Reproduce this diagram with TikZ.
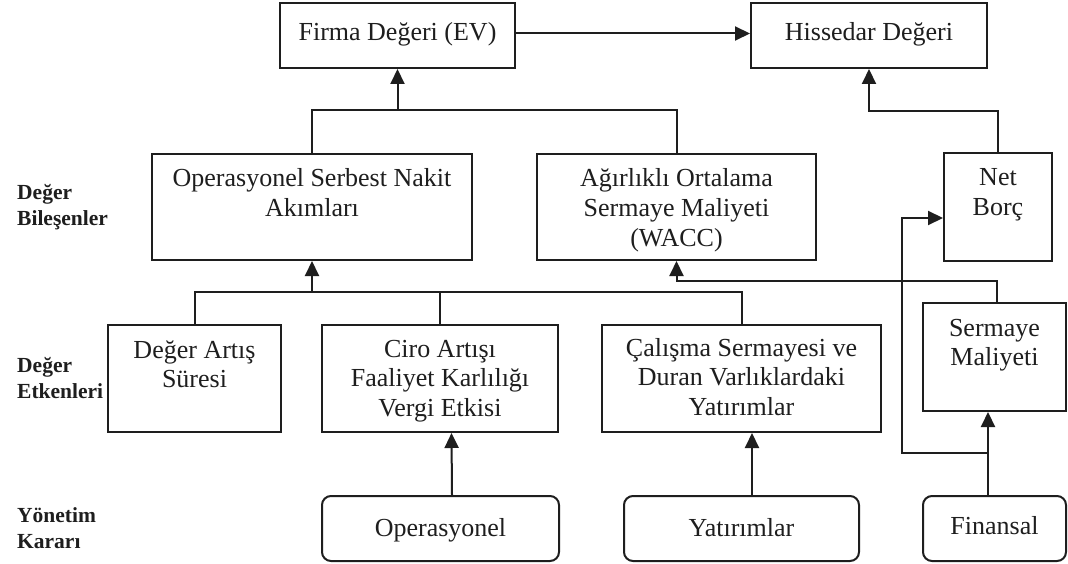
\documentclass[tikz,border=0pt]{standalone}
\usepackage{fontspec}
\setmainfont{Liberation Serif}
\usetikzlibrary{arrows.meta}
\definecolor{ink}{HTML}{1E1E1E}
\newcommand\bxt[4]{\parbox[c][#2][t]{#1}{\centering\rule{0pt}{#3}#4\par}}
\newcommand\boxfont{\fontsize{26pt}{29.5pt}\selectfont}
\newcommand\lblfont{\fontsize{21.5pt}{26pt}\selectfont\bfseries}
\tikzset{
  bx/.style={draw=ink, line width=2pt, inner sep=0pt, font=\boxfont, text=ink},
  rbx/.style={bx, rounded corners=9pt},
  conn/.style={draw=ink, line width=2pt},
  arr/.style={conn, -{Triangle[length=15pt,width=14pt]}},
  lbl/.style={anchor=base west, inner sep=0pt, font=\lblfont, text=ink}
}
\begin{document}
\begin{tikzpicture}[x=1pt,y=-1pt]
\fill[white] (0,0) rectangle (1068,564);
\useasboundingbox (0,0) rectangle (1068,564);

% side labels
\node[lbl] (lbA) at (17,200) {\parbox[t]{120pt}{\raggedright Değer\\Bileşenler}};
\node[lbl] (lbB) at (17,372) {\parbox[t]{120pt}{\raggedright Değer\\Etkenleri}};
\node[lbl] (lbC) at (17,522) {\parbox[t]{120pt}{\raggedright Yönetim\\Kararı}};

% boxes
\node[bx] (firma) at (397.5,35.5) {\bxt{235pt}{65pt}{38pt}{Firma Değeri (EV)}};
\node[bx] (hissedar) at (869,35.5) {\bxt{236pt}{65pt}{38pt}{Hissedar Değeri}};
\node[bx] (osna) at (312,207) {\bxt{320pt}{106pt}{33pt}{Operasyonel Serbest Nakit\\Akımları}};
\node[bx] (wacc) at (676.5,207) {\bxt{279pt}{106pt}{33pt}{Ağırlıklı Ortalama\\Sermaye Maliyeti\\(WACC)}};
\node[bx] (netborc) at (998,207) {\bxt{108pt}{108pt}{33pt}{Net\\Borç}};
\node[bx] (das) at (194.5,378.5) {\bxt{173pt}{107pt}{33pt}{Değer Artış\\Süresi}};
\node[bx] (caf) at (440,378.5) {\bxt{236pt}{107pt}{32pt}{Ciro Artışı\\Faaliyet Karlılığı\\Vergi Etkisi}};
\node[bx] (csv) at (741.5,378.5) {\bxt{279pt}{107pt}{31pt}{Çalışma Sermayesi ve\\Duran Varlıklardaki\\Yatırımlar}};
\node[bx] (sm) at (994.5,357) {\bxt{143pt}{108pt}{33pt}{Sermaye\\Maliyeti}};
\node[rbx] (oper) at (440.5,528.5) {\bxt{237pt}{65pt}{40pt}{Operasyonel}};
\node[rbx] (yat) at (741.5,528.5) {\bxt{235pt}{65pt}{40pt}{Yatırımlar}};
\node[rbx] (fin) at (994.5,528.5) {\bxt{143pt}{65pt}{38pt}{Finansal}};

% junctions
\coordinate (j1) at (397.5,110);
\coordinate (j2) at (869,111);
\coordinate (j3) at (312,292);
\coordinate (j4) at (676.5,281);
\coordinate (j5) at (988,453);
\coordinate (j6) at (902,218);

% connectors
\draw[arr] ([yshift=2pt]firma.east) -- ([yshift=2pt]hissedar.west);
\draw[conn] (osna.north) |- (j1);
\draw[conn] (wacc.north) |- (j1);
\draw[arr] (j1) -- (firma.south);
\draw[arr] (netborc.north) |- (j2) -- (hissedar.south);
\draw[conn] (das.north) |- (j3);
\draw[conn] (csv.north) |- (j3);
\draw[conn] (caf.north) -- (caf.north |- j3);
\draw[arr] (j3) -- (osna.south);
\draw[arr] ([xshift=2.5pt]sm.north) |- (j4) -- (wacc.south);
\draw[arr] ([xshift=11.5pt]oper.north) -- ([xshift=11.5pt]caf.south);
\draw[arr] ([xshift=10.5pt]yat.north) -- ([xshift=10.5pt]csv.south);
\draw[arr] ([xshift=-6.5pt]fin.north) -- ([xshift=-6.5pt]sm.south);
\draw[arr] (j5) -| (j6) -- ([yshift=-11pt]netborc.west);
\end{tikzpicture}
\end{document}
